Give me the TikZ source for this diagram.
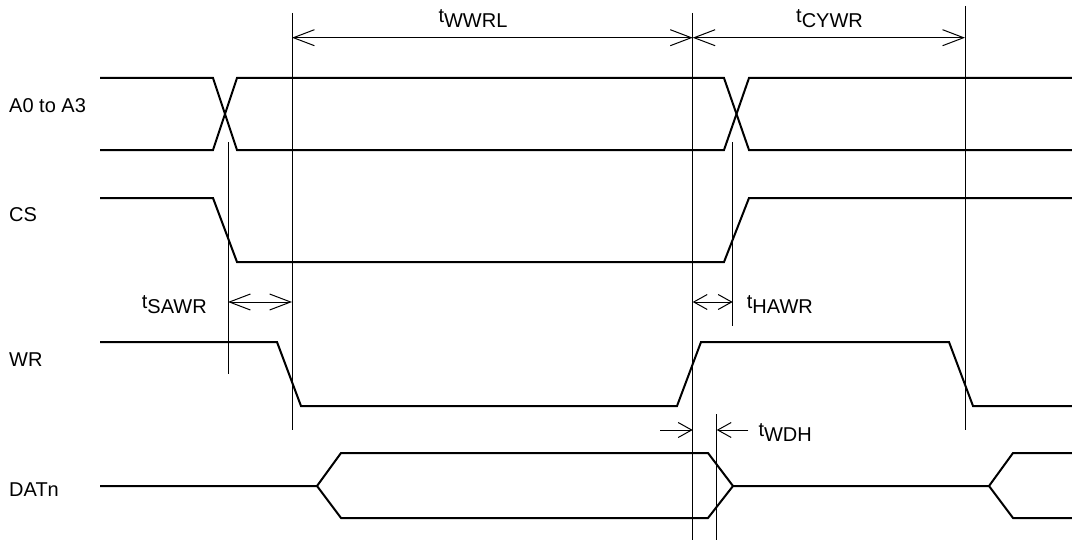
\documentclass[tikz,border=0pt]{standalone}
\usepackage{fontspec}
\setmainfont{Liberation Sans}
\usetikzlibrary{arrows.meta}

\tikzset{
    sig/.style={line width=2pt, line join=miter},
    refl/.style={line width=1pt},
    barb/.tip={Straight Barb[length=21pt,width=16pt]},
    sbarb/.tip={Straight Barb[length=13.5pt,width=15pt]},
    dim/.style={line width=1pt, {barb}-{barb}},
    sdim/.style={line width=1pt, {sbarb}-{sbarb}},
    sdimr/.style={line width=1pt, -{sbarb}},
    lbl/.style={anchor=base west, inner sep=0pt, font=\fontsize{20}{24}\selectfont}
}
\newcommand{\tlab}[1]{t\raisebox{-5pt}{#1}}

\begin{document}
\begin{tikzpicture}[x=1pt, y=-1pt]
    \useasboundingbox (0,0) rectangle (1072,543);

    % Signal names
    \node[lbl] (nA) at (9,113) {A0 to A3};
    \node[lbl] (nCS) at (9,221.7) {CS};
    \node[lbl] (nWR) at (9,366) {WR};
    \node[lbl] (nDAT) at (9,496.7) {DATn};

    % Reference lines
    \coordinate (r1t) at (228,142);   \coordinate (r1b) at (228,374);
    \coordinate (r2t) at (292,13);    \coordinate (r2b) at (292,430);
    \coordinate (r3t) at (692.7,13);  \coordinate (r3b) at (692.7,540);
    \coordinate (r4t) at (716.7,414); \coordinate (r4b) at (716.7,540);
    \coordinate (r5t) at (732.7,142); \coordinate (r5b) at (732.7,326);
    \coordinate (r6t) at (965,6);     \coordinate (r6b) at (965,430);
    \foreach \i in {1,...,6}
        \draw[refl] (r\i t) -- (r\i b);

    % A0 to A3
    \draw[sig] (100,78) -- (213,78) -- (237,150) -- (724,150) -- (749,78) -- (1072,78);
    \draw[sig] (100,150) -- (213,150) -- (237,78) -- (724,78) -- (749,150) -- (1072,150);

    % CS
    \draw[sig] (100,198) -- (213,198) -- (237,262) -- (724,262) -- (749,198) -- (1072,198);

    % WR
    \draw[sig] (100,342) -- (277,342) -- (301,406) -- (677,406) -- (701,342)
        -- (949,342) -- (973,406) -- (1072,406);

    % DATn
    \draw[sig] (100,486) -- (317,486) -- (341,453) -- (708,453) -- (733,486)
        -- (989,486) -- (1013,453) -- (1072,453);
    \draw[sig] (317,486) -- (341,518) -- (708,518) -- (733,486);
    \draw[sig] (989,486) -- (1013,518) -- (1072,518);

    % Timing dimensions
    \coordinate (wwa) at (292,37.7);   \coordinate (wwb) at (692.7,37.7);
    \coordinate (cya) at (692.7,37.7); \coordinate (cyb) at (965,37.7);
    \coordinate (saa) at (228,302);    \coordinate (sab) at (292,302);
    \coordinate (haa) at (692.7,302);  \coordinate (hab) at (732.7,302);
    \coordinate (wda) at (660,430);    \coordinate (wdb) at (692.7,430);
    \coordinate (wdc) at (748.3,430);  \coordinate (wdd) at (716.7,430);
    \draw[dim] (wwa) -- (wwb);
    \draw[dim] (cya) -- (cyb);
    \draw[dim] (saa) -- (sab);
    \draw[sdim] (haa) -- (hab);
    \draw[sdimr] (wda) -- (wdb);
    \draw[sdimr] (wdc) -- (wdd);

    \node[lbl] (tWWRL) at (438.3,22.7) {\tlab{WWRL}};
    \node[lbl] (tCYWR) at (796,22.7) {\tlab{CYWR}};
    \node[lbl] (tSAWR) at (141.7,308) {\tlab{SAWR}};
    \node[lbl] (tHAWR) at (746.7,308) {\tlab{HAWR}};
    \node[lbl] (tWDH) at (758.3,436.5) {\tlab{WDH}};
\end{tikzpicture}
\end{document}
